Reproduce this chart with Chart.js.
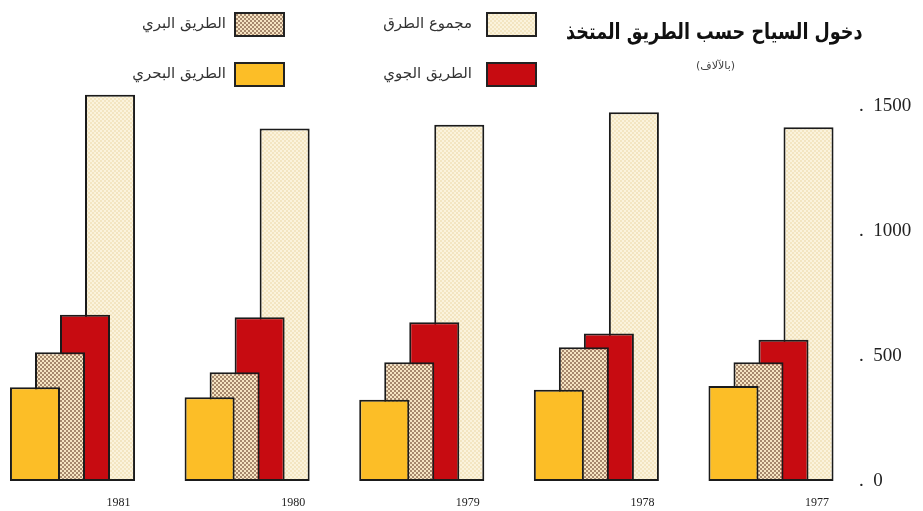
<!DOCTYPE html>
<html>
<head>
<meta charset="utf-8">
<title>دخول السياح حسب الطريق المتخذ</title>
<script src="https://cdn.jsdelivr.net/npm/chart.js@4.4.0/dist/chart.umd.min.js"></script>
<style>
  body { margin: 0; background: #fff; }
  #chart-container { position: relative; width: 923px; height: 511px; }
  #mycanvas { display: block; width: 923px; height: 511px; }
  #title { position: absolute; right: 60px; top: 19px; direction: rtl; color: #111;
           font: bold 22px "DejaVu Sans", sans-serif; white-space: nowrap;
           transform: scaleX(0.8); transform-origin: right center; }
  #subtitle { position: absolute; right: 188px; top: 59px; direction: rtl; color: #444;
              font: 11px "DejaVu Sans", sans-serif; }
  .lg-box { position: absolute; width: 47px; height: 21px; border: 2px solid #222; }
  .lg-text { position: absolute; direction: rtl; color: #333; white-space: nowrap;
             font: 15px "DejaVu Sans", sans-serif; transform: translateY(-50%); }
</style>
</head>
<body>
<div id="chart-container">
  <canvas id="mycanvas" width="923" height="511"></canvas>
  <div id="title">دخول السياح حسب الطريق المتخذ</div>
  <div id="subtitle">(بالآلاف)</div>
</div>
<script>
// tourist arrivals by route (thousands)
var years = ['1981', '1980', '1979', '1978', '1977'];
var seaRoute = [375, 335, 325, 365, 380];
var landRoute = [515, 435, 475, 535, 475];
var airRoute = [665, 655, 635, 590, 565];
var allRoutes = [1545, 1410, 1425, 1475, 1415];
var seriesNames = ['الطريق البحري', 'الطريق البري', 'الطريق الجوي', 'مجموع الطرق'];
var yTicks = [0, 500, 1000, 1500];

function dots(bg, dot, size, r, pts) {
  var c = document.createElement('canvas');
  c.width = c.height = size;
  var g = c.getContext('2d');
  g.fillStyle = bg;
  g.fillRect(0, 0, size, size);
  g.fillStyle = dot;
  pts.forEach(function (p) {
    g.beginPath();
    g.arc(p[0], p[1], r, 0, Math.PI * 2);
    g.fill();
  });
  return c;
}

var ctx = document.getElementById('mycanvas').getContext('2d');
var totalTile = dots('#fbf3dc', '#e8d39f', 4, 0.8, [[1, 1], [3, 3]]);
var landTile = dots('#f6e4c2', '#8c6a50', 4, 1, [[1, 1], [3, 3]]);

var fills = ['#fcbe27', ctx.createPattern(landTile, 'repeat'), '#c70b11', ctx.createPattern(totalTile, 'repeat')];
var swatches = ['#fcbe27', 'url(' + landTile.toDataURL() + ')', '#c70b11', 'url(' + totalTile.toDataURL() + ')'];
var values = [seaRoute, landRoute, airRoute, allRoutes];

// legend spots: [box left, box top, text right edge]
var spots = [[234, 62, 226], [234, 12, 226], [486, 62, 472], [486, 12, 472]];
var holder = document.getElementById('chart-container');
seriesNames.forEach(function (name, i) {
  var b = document.createElement('div');
  b.className = 'lg-box';
  b.style.left = spots[i][0] + 'px';
  b.style.top = spots[i][1] + 'px';
  b.style.background = swatches[i];
  holder.appendChild(b);
  var t = document.createElement('div');
  t.className = 'lg-text';
  t.textContent = name;
  t.style.right = (923 - spots[i][2]) + 'px';
  t.style.top = (spots[i][1] + 11) + 'px';
  holder.appendChild(t);
});

var chartdata = {
  labels: years,
  datasets: values.map(function (v, i) {
    return {
      label: seriesNames[i],
      data: v,
      backgroundColor: fills[i],
      borderColor: '#1b1b1b',
      borderWidth: 2,
      borderSkipped: false,
      clip: false
    };
  })
};

new Chart(ctx, {
  type: 'bar',
  data: chartdata,
  options: {
    responsive: false,
    maintainAspectRatio: false,
    animation: false,
    categoryPercentage: 0.573,
    barPercentage: 2,
    layout: { padding: { left: 72.5, top: 81, right: 0, bottom: 0 } },
    plugins: { legend: { display: false }, tooltip: { enabled: false } },
    scales: {
      x: {
        offset: false,
        grid: { display: false },
        border: { display: false },
        ticks: { color: '#222', padding: 7, labelOffset: 46, font: { family: 'Liberation Serif', size: 12 } },
        afterFit: function (s) { s.height = 30; }
      },
      y: {
        position: 'right',
        min: 0,
        max: 1600,
        grid: { display: false },
        border: { display: false },
        afterBuildTicks: function (s) { s.ticks = yTicks.map(function (v) { return { value: v }; }); },
        ticks: {
          color: '#222',
          padding: 80,
          font: { family: 'Liberation Serif', size: 19 },
          callback: function (v) { return '.  ' + v; }
        },
        afterFit: function (s) {
          s.width = 152;
          s.paddingTop = 0;
          s.paddingBottom = 0;
        }
      }
    }
  }
});
</script>
</body>
</html>
